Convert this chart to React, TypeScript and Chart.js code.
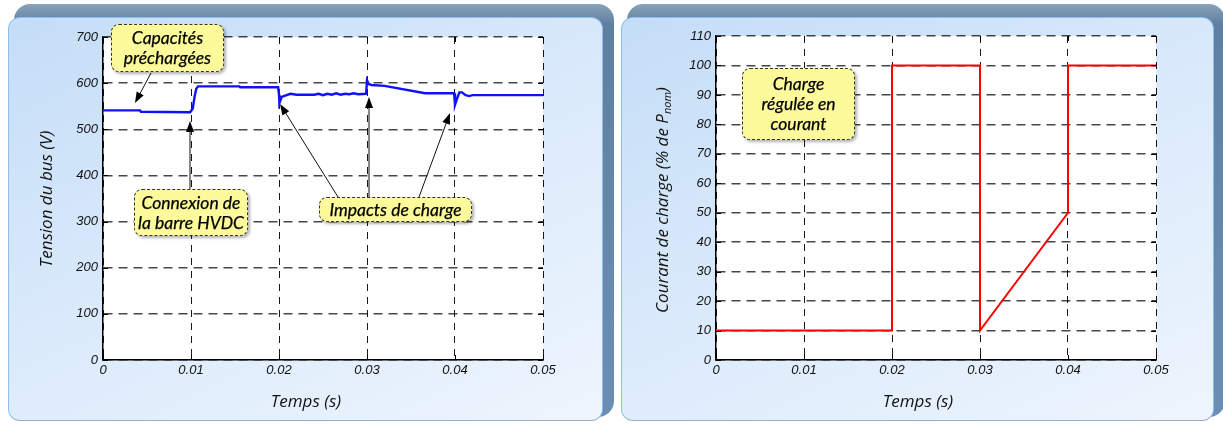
import React, { useEffect, useRef } from "react";
import { Chart, registerables } from "chart.js";
Chart.register(...registerables);

// ---------- data ----------
const timeTicks = [0, 0.01, 0.02, 0.03, 0.04, 0.05];
const timeTickLabels = ["0", "0.01", "0.02", "0.03", "0.04", "0.05"];

const busTime = [
  0, 0.0042, 0.0043, 0.0099, 0.0102, 0.0104, 0.0106, 0.0108, 0.0155, 0.0156, 0.0199,
  0.02, 0.02005, 0.0203, 0.0207, 0.0213, 0.022, 0.024, 0.0245, 0.025, 0.0255, 0.026,
  0.0265, 0.027, 0.0275, 0.028, 0.0285, 0.029, 0.0299, 0.03, 0.0302, 0.0305, 0.032,
  0.0366, 0.0399, 0.04, 0.0402, 0.0405, 0.0408, 0.0412, 0.0416, 0.042, 0.05,
];
const busVoltage = [
  541, 541, 538, 537, 545, 570, 588, 593, 593, 591, 591,
  575, 557, 570, 573, 577, 575, 575, 577, 574, 577, 575,
  578, 575, 577, 576, 578, 576, 577, 606, 598, 596, 594,
  578, 578, 553, 565, 580, 580, 574, 572, 574, 574,
];
const voltageMax = 700;
const voltageStep = 100;

const loadTime = [0, 0.02, 0.02, 0.03, 0.03, 0.04, 0.04, 0.05];
const loadCurrent = [10, 10, 100, 100, 10, 50, 100, 100];
const currentMax = 110;
const currentStep = 10;

const leftYTitle = "Tension du bus (V)";
const rightYTitleMain = "Courant de charge (% de P";
const rightYTitleSub = "nom";
const rightYTitleEnd = ")";
const xTitle = "Temps (s)";

// ---------- helpers ----------
type Arrow = [number, number, number, number];

function drawArrow(ctx: CanvasRenderingContext2D, a: Arrow) {
  const [x1, y1, x2, y2] = a;
  const ang = Math.atan2(y2 - y1, x2 - x1);
  const L = 11, W = 4;
  ctx.save();
  ctx.strokeStyle = "#111";
  ctx.fillStyle = "#000";
  ctx.lineWidth = 1;
  ctx.beginPath();
  ctx.moveTo(x1, y1);
  ctx.lineTo(x2 - Math.cos(ang) * L * 0.8, y2 - Math.sin(ang) * L * 0.8);
  ctx.stroke();
  ctx.beginPath();
  ctx.moveTo(x2, y2);
  ctx.lineTo(x2 - L * Math.cos(ang) + W * Math.sin(ang), y2 - L * Math.sin(ang) - W * Math.cos(ang));
  ctx.lineTo(x2 - L * Math.cos(ang) - W * Math.sin(ang), y2 - L * Math.sin(ang) + W * Math.cos(ang));
  ctx.closePath();
  ctx.fill();
  ctx.restore();
}

interface Cfg {
  times: number[];
  values: number[];
  color: string;
  lineWidth: number;
  yMax: number;
  yStep: number;
  yAxisWidth: number;
  padRight: number;
  padTop: number;
  xTitleX: number;
  drawYTitle: (ctx: CanvasRenderingContext2D) => void;
  arrows: Arrow[];
}

const titleFont = "italic 17px 'Open Sans', sans-serif";
const titleColor = "#111";

function buildChart(canvas: HTMLCanvasElement, cfg: Cfg) {
  const tickFont = { family: "'Liberation Sans', Arial, sans-serif", style: "italic" as const, size: 13 };
  const framePlugin = {
    id: "frame",
    beforeDraw(chart: any) {
      const { ctx, chartArea: a } = chart;
      ctx.save();
      ctx.fillStyle = "#ffffff";
      ctx.fillRect(a.left, a.top, a.right - a.left, a.bottom - a.top);
      ctx.restore();
    },
    afterDraw(chart: any) {
      const { ctx, chartArea: a } = chart;
      const xs = chart.scales.x;
      const ys = chart.scales.y;
      ctx.save();
      ctx.strokeStyle = "#000";
      ctx.lineWidth = 1;
      ctx.beginPath();
      ys.ticks.forEach((t: any) => {
        const y = Math.round(ys.getPixelForValue(t.value)) + 0.5;
        ctx.moveTo(a.left, y); ctx.lineTo(a.left + 5, y);
        ctx.moveTo(a.right - 5, y); ctx.lineTo(a.right, y);
      });
      xs.ticks.forEach((t: any) => {
        const x = Math.round(xs.getPixelForValue(t.value)) + 0.5;
        ctx.moveTo(x, a.bottom); ctx.lineTo(x, a.bottom - 5);
        ctx.moveTo(x, a.top); ctx.lineTo(x, a.top + 5);
      });
      ctx.stroke();
      // x title
      ctx.fillStyle = titleColor;
      ctx.font = titleFont;
      ctx.textAlign = "center";
      ctx.textBaseline = "middle";
      ctx.fillText(xTitle, cfg.xTitleX, 402);
      cfg.drawYTitle(ctx);
      cfg.arrows.forEach((ar) => drawArrow(ctx, ar));
      ctx.restore();
    },
  };

  return new Chart(canvas, {
    type: "line",
    data: {
      datasets: [
        {
          data: cfg.times.map((t, i) => ({ x: t, y: cfg.values[i] })),
          borderColor: cfg.color,
          borderWidth: cfg.lineWidth,
          pointRadius: 0,
          tension: 0,
          fill: false,
        },
      ],
    },
    options: {
      responsive: false,
      animation: false,
      devicePixelRatio: 1,
      events: [],
      layout: { padding: { left: 0, right: cfg.padRight, top: cfg.padTop, bottom: 0 } },
      plugins: { legend: { display: false }, tooltip: { enabled: false } },
      scales: {
        x: {
          type: "linear",
          min: 0,
          max: 0.05,
          afterBuildTicks: (s: any) => {
            s.ticks = timeTicks.map((v) => ({ value: v }));
          },
          afterFit: (s: any) => {
            s.height = 64;
          },
          ticks: {
            font: tickFont,
            color: "#111",
            padding: 3,
            maxRotation: 0,
            callback: (_v: any, i: number) => timeTickLabels[i],
          },
          grid: { color: "rgba(0,0,0,0.9)", lineWidth: 1, drawTicks: false },
          border: { display: true, color: "#000", width: 1.5, dash: [7, 6] },
        },
        y: {
          type: "linear",
          min: 0,
          max: cfg.yMax,
          ticks: { stepSize: cfg.yStep, font: tickFont, color: "#111", padding: 5 },
          afterFit: (s: any) => {
            s.width = cfg.yAxisWidth;
          },
          grid: { color: "rgba(0,0,0,0.72)", lineWidth: 1.4, drawTicks: false },
          border: { display: true, color: "#000", width: 1.5, dash: [9, 6] },
        },
      },
    },
    plugins: [framePlugin],
  } as any);
}

const boxBase: React.CSSProperties = {
  position: "absolute",
  background: "#fcfa9b",
  border: "1px dashed #333",
  borderRadius: 8,
  boxShadow: "2px 2px 3px rgba(0,0,0,0.3)",
  font: "italic 17.5px Lato, sans-serif",
  color: "#000",
  WebkitTextStroke: "0.25px #000",
  display: "flex",
  alignItems: "center",
  justifyContent: "center",
  textAlign: "center",
  lineHeight: "20px",
  boxSizing: "border-box",
  whiteSpace: "nowrap",
};

function Panel({ left, width }: { left: number; width: number }) {
  return (
    <>
      <div
        style={{
          position: "absolute",
          left: left + 6,
          top: 4,
          width: width - 4,
          height: 413,
          borderRadius: 16,
          background: "linear-gradient(180deg, #8aa2b9 0%, #5e7f9f 5%, #6b8fb4 100%)",
        }}
      />
      <div
        style={{
          position: "absolute",
          left: left,
          top: 17,
          width: width - 9,
          height: 404,
          borderRadius: 12,
          boxSizing: "border-box",
          border: "1.5px solid #8fbff0",
          borderBottomColor: "#9aabbd",
          background: "linear-gradient(155deg, #c4ddf7 0%, #d9e9fb 45%, #eef5fd 100%)",
        }}
      />
    </>
  );
}

export default function App() {
  const leftRef = useRef<HTMLCanvasElement>(null);
  const rightRef = useRef<HTMLCanvasElement>(null);

  useEffect(() => {
    const c1 = buildChart(leftRef.current!, {
      times: busTime,
      values: busVoltage,
      color: "#1010ff",
      lineWidth: 2.4,
      yMax: voltageMax,
      yStep: voltageStep,
      yAxisWidth: 103,
      padRight: 69,
      padTop: 37,
      xTitleX: 306,
      drawYTitle: (ctx) => {
        ctx.save();
        ctx.translate(47, 199);
        ctx.rotate(-Math.PI / 2);
        ctx.font = titleFont;
        ctx.fillStyle = titleColor;
        ctx.textAlign = "center";
        ctx.textBaseline = "middle";
        ctx.fillText(leftYTitle, 0, 0);
        ctx.restore();
      },
      arrows: [
        [151, 73, 135, 103],
        [190, 189, 190, 121],
        [338, 197, 280, 104],
        [369, 197, 369, 97],
        [419, 197, 450, 113],
      ],
    });
    const c2 = buildChart(rightRef.current!, {
      times: loadTime,
      values: loadCurrent,
      color: "#ff0000",
      lineWidth: 2,
      yMax: currentMax,
      yStep: currentStep,
      yAxisWidth: 104,
      padRight: 67,
      padTop: 36,
      xTitleX: 918 - 612,
      drawYTitle: (ctx) => {
        ctx.save();
        ctx.translate(663 - 612, 200);
        ctx.rotate(-Math.PI / 2);
        ctx.fillStyle = titleColor;
        ctx.textBaseline = "middle";
        ctx.textAlign = "left";
        const mainFont = titleFont;
        const subFont = "italic 11px 'Open Sans', sans-serif";
        ctx.font = mainFont;
        const w1 = ctx.measureText(rightYTitleMain).width;
        const w3 = ctx.measureText(rightYTitleEnd).width;
        ctx.font = subFont;
        const w2 = ctx.measureText(rightYTitleSub).width;
        let x = -(w1 + w2 + w3) / 2;
        ctx.font = mainFont;
        ctx.fillText(rightYTitleMain, x, 0);
        x += w1;
        ctx.font = subFont;
        ctx.fillText(rightYTitleSub, x, 5);
        x += w2;
        ctx.font = mainFont;
        ctx.fillText(rightYTitleEnd, x, 0);
        ctx.restore();
      },
      arrows: [],
    });
    return () => {
      c1.destroy();
      c2.destroy();
    };
  }, []);

  return (
    <div style={{ position: "absolute", left: 0, top: 0, width: 1223, height: 424, overflow: "hidden", background: "#ffffff" }}>
      <Panel left={8} width={604} />
      <Panel left={621} width={602} />
      <canvas ref={leftRef} width={612} height={424} style={{ position: "absolute", left: 0, top: 0 }} />
      <canvas ref={rightRef} width={611} height={424} style={{ position: "absolute", left: 612, top: 0 }} />
      <div style={{ ...boxBase, left: 111, top: 24, width: 113, height: 48 }}>
        Capacités
        <br />
        préchargées
      </div>
      <div style={{ ...boxBase, left: 134, top: 189, width: 114, height: 47 }}>
        Connexion de
        <br />
        la barre HVDC
      </div>
      <div style={{ ...boxBase, left: 319, top: 197, width: 153, height: 25 }}>Impacts de charge</div>
      <div style={{ ...boxBase, left: 742, top: 68, width: 113, height: 72 }}>
        Charge
        <br />
        régulée en
        <br />
        courant
      </div>
    </div>
  );
}
